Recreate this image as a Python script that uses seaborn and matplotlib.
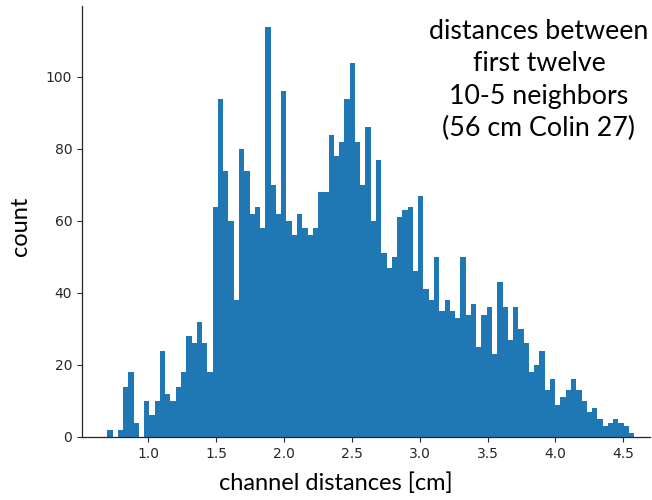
import numpy as np
import pandas as pd
import matplotlib
matplotlib.use("Agg")
import matplotlib.pyplot as plt
import seaborn as sns

# ---- data ----
bin_start = 0.697
bin_end = 4.581
counts = [2, 0, 2, 14, 18, 4, 0, 10, 6, 10,
          24, 12, 10, 14, 18, 28, 26, 32, 26, 18,
          64, 94, 74, 60, 38, 80, 74, 62, 64, 58,
          114, 70, 62, 96, 60, 56, 62, 58, 56, 58,
          68, 68, 84, 78, 82, 94, 104, 82, 70, 86,
          60, 77, 51, 47, 50, 61, 63, 64, 46, 67,
          41, 38, 50, 35, 38, 35, 33, 50, 34, 37,
          25, 34, 36, 23, 43, 36, 27, 36, 30, 26,
          18, 20, 24, 13, 16, 9, 11, 13, 16, 13,
          10, 7, 8, 5, 3, 4, 5, 4, 3, 1]
x_ticks = [1.0, 1.5, 2.0, 2.5, 3.0, 3.5, 4.0, 4.5]
y_ticks = [0, 20, 40, 60, 80, 100]
title_text = "distances between\nfirst twelve\n10-5 neighbors\n(56 cm Colin 27)"
x_label = "channel distances [cm]"
y_label = "count"

n_bins = len(counts)
edges = np.linspace(bin_start, bin_end, n_bins + 1)
centers = (edges[:-1] + edges[1:]) / 2
df = pd.DataFrame({"distance": centers, "count": counts})

sns.set_theme(style="ticks")
plt.rcParams["font.family"] = ["DejaVu Sans"]

W, H = 652, 500
fig = plt.figure(figsize=(W / 100, H / 100), dpi=100)
ax = fig.add_axes([82 / W, 63 / H, 568 / W, 431 / H])

sns.histplot(data=df, x="distance", weights="count", bins=n_bins,
             binrange=(bin_start, bin_end),
             color="#1f77b4", alpha=1, linewidth=0, ax=ax)

ax.set_xlim(0.511, 4.697)
ax.set_ylim(0, 119.7)
ax.set_xticks(x_ticks)
ax.set_xticklabels([f"{t:.1f}" for t in x_ticks])
ax.set_yticks(y_ticks)
ax.tick_params(labelsize=10, length=3.5, width=0.8, colors="#262626")
for s in ["left", "bottom"]:
    ax.spines[s].set_linewidth(0.9)
    ax.spines[s].set_color("#262626")
sns.despine(ax=ax)

ax.set_xlabel(x_label, family=["Lato", "DejaVu Sans"], fontsize=17, color="black")
ax.xaxis.set_label_coords((336 - 82) / 568, (437 - 483) / 431)
ax.xaxis.label.set_va("center")
ax.set_ylabel(y_label, family=["Lato", "DejaVu Sans"], fontsize=17, color="black")
ax.yaxis.set_label_coords((21 - 82) / 568, (437 - 226) / 431)
ax.yaxis.label.set_va("center")

fig.text(539 / W, 1 - 80 / H, title_text, ha="center", va="center",
         multialignment="center", family=["Lato", "DejaVu Sans"],
         fontsize=19.3, linespacing=1.36, color="black")

fig.savefig("out.png", dpi=100)
